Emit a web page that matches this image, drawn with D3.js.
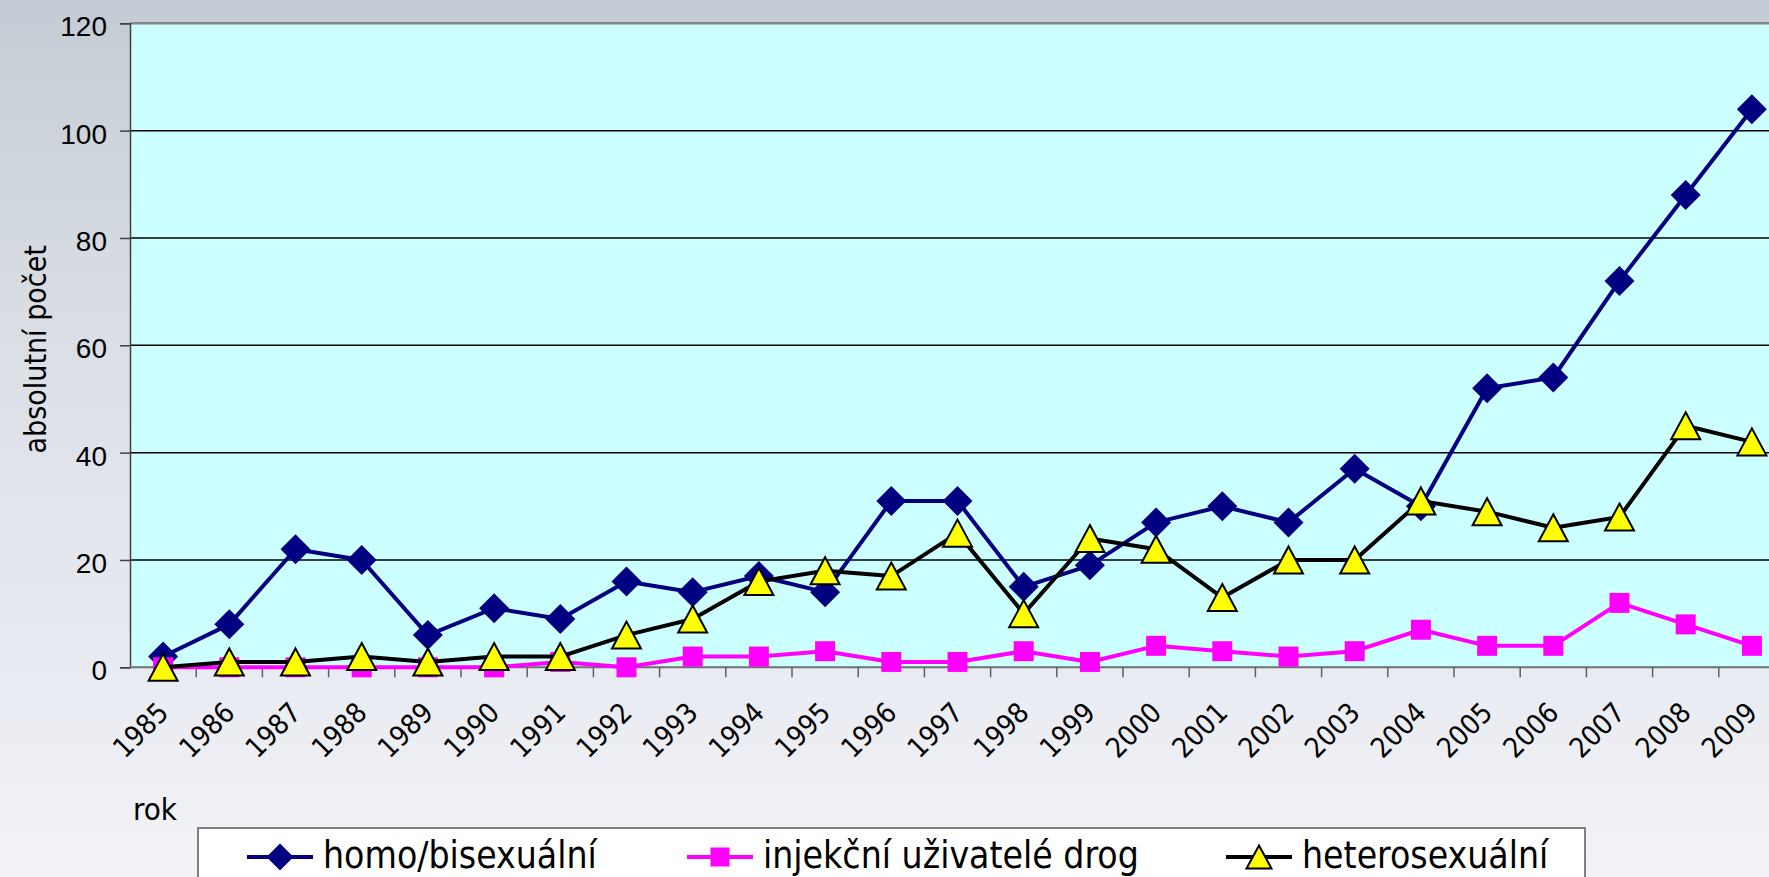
<!DOCTYPE html>
<html>
<head>
<meta charset="utf-8">
<script src="https://cdn.jsdelivr.net/npm/d3@7"></script>
<style>
  html, body { margin: 0; padding: 0; background: #e8eaf0; }
  svg { display: block; font-family: 'DejaVu Sans Condensed', 'DejaVu Sans', sans-serif; }
</style>
</head>
<body>
<div id="chart"></div>
<script>
// data
const years = d3.range(1985, 2010).map(String);
const homo = [2, 8, 22, 20, 6, 11, 9, 16, 14, 17, 14, 31, 31, 15, 19, 27, 30, 27, 37, 30, 52, 54, 72, 88, 104];
const drugs = [0, 0, 0, 0, 0, 0, 1, 0, 2, 2, 3, 1, 1, 3, 1, 4, 3, 2, 3, 7, 4, 4, 12, 8, 4];
const hetero = [0, 1, 1, 2, 1, 2, 2, 6, 9, 16, 18, 17, 25, 10, 24, 22, 13, 20, 20, 31, 29, 26, 28, 45, 42];
const seriesNames = ['homo/bisexuální', 'injekční uživatelé drog', 'heterosexuální'];
const yTicks = [0, 20, 40, 60, 80, 100, 120];

const width = 1769;
const height = 877;
const plot = { left: 130, right: 1785, top: 23.3, bottom: 667.3 };

const svg = d3
  .select('#chart')
  .append('svg')
  .attr('width', width)
  .attr('height', height);

// background gradient
const grad = svg
  .append('defs')
  .append('linearGradient')
  .attr('id', 'bg')
  .attr('x1', 0)
  .attr('y1', 0)
  .attr('x2', 0)
  .attr('y2', 1);
[
  [0, '#c3ccd4'],
  [0.3, '#d6dbe2'],
  [0.7, '#e7e9f1'],
  [1, '#f1f3f7'],
].forEach(([o, c]) => grad.append('stop').attr('offset', o).attr('stop-color', c));

svg.append('rect').attr('width', width).attr('height', height).attr('fill', 'url(#bg)');

const x = d3.scalePoint().domain(years).range([plot.left, plot.right]).padding(0.5);
const y = d3.scaleLinear().domain([0, 120]).range([plot.bottom, plot.top]);
const step = x.step();

// plot area
svg
  .append('rect')
  .attr('x', plot.left)
  .attr('y', plot.top)
  .attr('width', plot.right - plot.left)
  .attr('height', plot.bottom - plot.top)
  .attr('fill', '#ccffff');

// gridlines
svg
  .append('g')
  .selectAll('line')
  .data(yTicks.filter((d) => d > 0 && d < 120))
  .join('line')
  .attr('x1', plot.left)
  .attr('x2', plot.right)
  .attr('y1', (d) => y(d))
  .attr('y2', (d) => y(d))
  .attr('stroke', '#000')
  .attr('stroke-width', 1.5);

// top border
svg
  .append('line')
  .attr('x1', plot.left)
  .attr('x2', plot.right)
  .attr('y1', y(120))
  .attr('y2', y(120))
  .attr('stroke', '#858585')
  .attr('stroke-width', 2.5);

// y axis
const yAxis = svg
  .append('g')
  .attr('transform', `translate(${plot.left},0)`)
  .call(d3.axisLeft(y).tickValues(yTicks).tickSize(10).tickPadding(13));
yAxis.select('.domain').attr('stroke', '#404040').attr('stroke-width', 1.5);
yAxis.selectAll('.tick line').attr('stroke', '#404040').attr('stroke-width', 1.5);
yAxis
  .selectAll('.tick text')
  .attr('font-size', 28)
  .attr('font-family', null)
  .attr('fill', '#000')
  .attr('dy', '0.45em');

// x axis line + ticks between categories
svg
  .append('line')
  .attr('x1', plot.left)
  .attr('x2', plot.right)
  .attr('y1', plot.bottom)
  .attr('y2', plot.bottom)
  .attr('stroke', '#707070')
  .attr('stroke-width', 2);

svg
  .append('g')
  .selectAll('line')
  .data(years)
  .join('line')
  .attr('x1', (d) => x(d) + step / 2)
  .attr('x2', (d) => x(d) + step / 2)
  .attr('y1', plot.bottom)
  .attr('y2', plot.bottom + 10)
  .attr('stroke', '#606060')
  .attr('stroke-width', 1.5);

// year labels, rotated
svg
  .append('g')
  .selectAll('text')
  .data(years)
  .join('text')
  .attr('transform', (d) => `translate(${x(d) + 7},${plot.bottom + 47}) rotate(-45)`)
  .attr('text-anchor', 'end')
  .attr('font-size', 28)
  .text((d) => d);

// axis titles
svg
  .append('text')
  .attr('transform', `translate(46,${(plot.top + plot.bottom) / 2 + 4}) rotate(-90)`)
  .attr('text-anchor', 'middle')
  .attr('font-size', 30)
  .text('absolutní počet');

svg.append('text').attr('x', 133).attr('y', 820).attr('font-size', 31).text('rok');

// markers
const diamond = (r) => `M0,${-r}L${r},0L0,${r}L${-r},0Z`;
const square = (s) => `M${-s / 2},${-s / 2}h${s}v${s}h${-s}Z`;
const triangle = (w, h) => `M0,${-h / 2}L${w / 2},${h / 2}L${-w / 2},${h / 2}Z`;

const series = [
  { name: seriesNames[0], values: homo, color: '#000080', marker: diamond(15), legendMarker: diamond(13.5), fill: '#000080', stroke: 'none' },
  { name: seriesNames[1], values: drugs, color: '#ff00ff', marker: square(20), legendMarker: square(19), fill: '#ff00ff', stroke: 'none' },
  { name: seriesNames[2], values: hetero, color: '#000000', marker: triangle(29, 27), legendMarker: triangle(25, 23), fill: '#ffff00', stroke: '#000' },
];

const line = d3
  .line()
  .x((d, i) => x(years[i]))
  .y((d) => y(d));

series.forEach((s) => {
  const g = svg.append('g');
  g.append('path')
    .attr('d', line(s.values))
    .attr('fill', 'none')
    .attr('stroke', s.color)
    .attr('stroke-width', 4)
    .attr('stroke-linejoin', 'round');
  g.selectAll('path.m')
    .data(s.values)
    .join('path')
    .attr('class', 'm')
    .attr('transform', (d, i) => `translate(${x(years[i])},${y(d)})`)
    .attr('d', s.marker)
    .attr('fill', s.fill)
    .attr('stroke', s.stroke)
    .attr('stroke-width', 2);
});

// legend
const legendX = [247, 687, 1226];
const legendY = 857;
const legend = svg.append('g');
legend
  .append('rect')
  .attr('x', 198)
  .attr('y', 828)
  .attr('width', 1387)
  .attr('height', 80)
  .attr('fill', '#fff')
  .attr('stroke', '#808080')
  .attr('stroke-width', 2);

series.forEach((s, i) => {
  const lx = legendX[i];
  legend
    .append('line')
    .attr('x1', lx)
    .attr('x2', lx + 66)
    .attr('y1', legendY)
    .attr('y2', legendY)
    .attr('stroke', s.color)
    .attr('stroke-width', 4);
  legend
    .append('path')
    .attr('transform', `translate(${lx + 33},${legendY})`)
    .attr('d', s.legendMarker)
    .attr('fill', s.fill)
    .attr('stroke', s.stroke)
    .attr('stroke-width', 2);
  legend
    .append('text')
    .attr('x', lx + 76)
    .attr('y', 868)
    .attr('font-size', 37)
    .text(s.name);
});
</script>
</body>
</html>
